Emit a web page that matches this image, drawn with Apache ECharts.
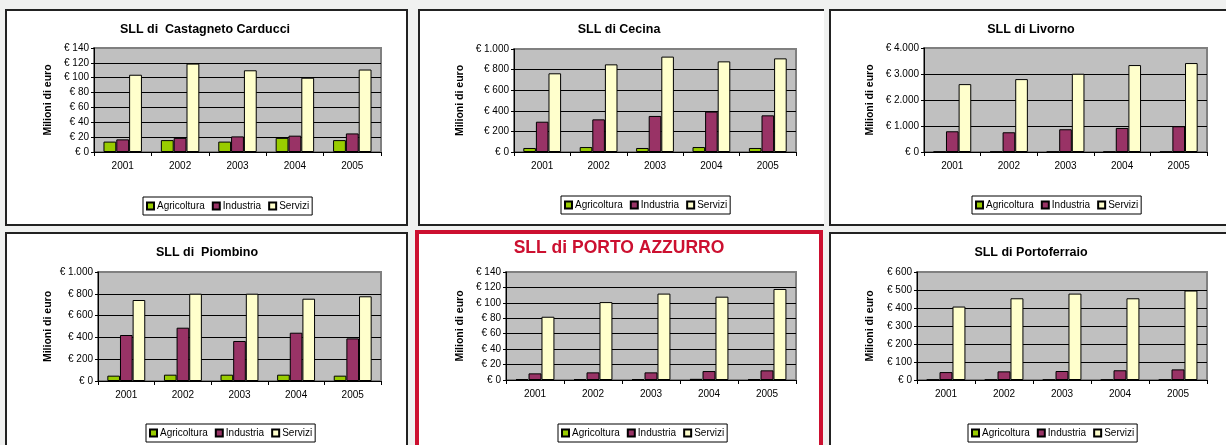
<!DOCTYPE html>
<html>
<head>
<meta charset="utf-8">
<script src="https://cdn.jsdelivr.net/npm/echarts@6/dist/echarts.min.js"></script>
<style>
  html, body { margin: 0; padding: 0; background: #f0f1f0; }
  #wrap { position: relative; width: 1226px; height: 445px; overflow: hidden; }
  .frame { position: absolute; box-sizing: border-box; background: #fff; border: 2px solid #222; }
  #chart { position: absolute; left: 0; top: 0; width: 1226px; height: 445px; }
</style>
</head>
<body>
<div id="wrap">
  <div class="frame" style="left:5px;top:9px;width:403px;height:217px;"></div>
  <div class="frame" style="left:418px;top:9px;width:406px;height:217px;border-right:none;"></div>
  <div class="frame" style="left:829px;top:9px;width:400px;height:217px;border-right:none;"></div>
  <div class="frame" style="left:5px;top:232px;width:403px;height:220px;border-bottom:none;"></div>
  <div class="frame" style="left:415px;top:230px;width:408px;height:220px;border:4px solid #cc1030;border-bottom:none;"></div>
  <div class="frame" style="left:829px;top:232px;width:400px;height:220px;border-right:none;border-bottom:none;"></div>
  <div id="chart"></div>
</div>
<script>
// categories and legend
const years = ["2001", "2002", "2003", "2004", "2005"];
const sectors = ["Agricoltura", "Industria", "Servizi"];
const sectorColors = ["#99cc00", "#993366", "#ffffcc"];

// values (milioni di euro)
const castagnetoAgri = [14, 16, 14, 19, 16];
const castagnetoInd = [17, 19, 21, 22, 25];
const castagnetoServ = [104, 119, 110, 100, 111];

const cecinaAgri = [39, 48, 39, 48, 39];
const cecinaInd = [294, 317, 350, 392, 356];
const cecinaServ = [764, 851, 926, 880, 909];

const livornoAgri = [15, 15, 15, 15, 15];
const livornoInd = [797, 759, 875, 926, 990];
const livornoServ = [2611, 2804, 3010, 3344, 3421];

const piombinoAgri = [49, 58, 58, 58, 49];
const piombinoInd = [422, 489, 367, 443, 391];
const piombinoServ = [743, 801, 801, 755, 777];

const portoAzzurroAgri = [1.2, 1.2, 1.2, 1.5, 1.2];
const portoAzzurroInd = [8.6, 9.9, 9.9, 11.6, 12.5];
const portoAzzurroServ = [82, 101, 112, 108, 118];

const portoferraioAgri = [2, 2, 2, 2, 2];
const portoferraioInd = [44, 48, 50, 54, 59];
const portoferraioServ = [408, 454, 480, 454, 497];

// y axis ranges
const axisMax = [140, 1000, 4000, 1000, 140, 600];
const axisStep = [20, 200, 1000, 200, 20, 100];

const titles = [
  "SLL di  Castagneto Carducci",
  "SLL di Cecina",
  "SLL di Livorno",
  "SLL di  Piombino",
  "SLL di PORTO AZZURRO",
  "SLL di Portoferraio",
];

const panelData = [
  [castagnetoAgri, castagnetoInd, castagnetoServ],
  [cecinaAgri, cecinaInd, cecinaServ],
  [livornoAgri, livornoInd, livornoServ],
  [piombinoAgri, piombinoInd, piombinoServ],
  [portoAzzurroAgri, portoAzzurroInd, portoAzzurroServ],
  [portoferraioAgri, portoferraioInd, portoferraioServ],
];

// layout of each panel (page pixels)
const grids = [
  { left: 94, top: 48, width: 287, height: 104 },
  { left: 514, top: 49, width: 282, height: 103 },
  { left: 924, top: 48, width: 283, height: 104 },
  { left: 98, top: 272, width: 283, height: 109 },
  { left: 506, top: 272, width: 290, height: 108 },
  { left: 917, top: 272, width: 290, height: 108 },
];
const titlePos = [[205, 30], [619, 30], [1031, 30], [207, 253], [619, 248], [1031, 253]];
const nameGaps = [40, 48, 48, 44, 40, 41];
const legendPos = [[143, 197], [561, 196], [972, 196], [146, 424], [558, 424], [968, 424]];

const font = "'Liberation Sans', Arial, sans-serif";

const euro = (v) => "€ " + String(v).replace(/\B(?=(\d{3})+(?!\d))/g, ".");

var myChart = echarts.init(document.getElementById("chart"), null, { renderer: "canvas" });

var option = {
  animation: false,
  backgroundColor: "transparent",
  textStyle: { fontFamily: font, color: "#000" },
  title: [],
  legend: [],
  grid: [],
  xAxis: [],
  yAxis: [],
  series: [],
};

grids.forEach((g, i) => {
  const big = i === 4;
  option.title.push({
    text: titles[i],
    left: titlePos[i][0],
    top: titlePos[i][1],
    textAlign: "center",
    textVerticalAlign: "middle",
    padding: 0,
    textStyle: big
      ? { fontFamily: font, fontSize: 17.5, fontWeight: "bold", color: "#cc1030" }
      : { fontFamily: font, fontSize: 12.5, fontWeight: "bold", color: "#000" },
  });

  option.grid.push({
    left: g.left,
    top: g.top,
    width: g.width,
    height: g.height,
    show: true,
    backgroundColor: "#c0c0c0",
    borderColor: "#808080",
    borderWidth: 2,
  });

  // split line colours: black, the top one gray like the plot border
  const n = axisMax[i] / axisStep[i] + 1;
  const lineColors = [];
  for (var k = 0; k < n; k++) lineColors.push(k === n - 1 ? "#808080" : "#000");

  option.xAxis.push({
    type: "category",
    gridIndex: i,
    data: years,
    axisLine: { lineStyle: { color: "#000", width: 1 } },
    axisTick: { show: true, length: 4, lineStyle: { color: "#000" } },
    axisLabel: { color: "#000", fontSize: 10, fontFamily: font, margin: 9 },
  });

  option.yAxis.push({
    type: "value",
    gridIndex: i,
    min: 0,
    max: axisMax[i],
    interval: axisStep[i],
    name: "Milioni di euro",
    nameLocation: "middle",
    nameGap: nameGaps[i],
    nameTextStyle: { fontFamily: font, fontSize: 10.5, fontWeight: "bold", color: "#000" },
    axisLine: { show: true, lineStyle: { color: "#000", width: 1 } },
    axisTick: { show: true, length: 3, lineStyle: { color: "#000" } },
    axisLabel: { color: "#000", fontSize: 10, fontFamily: font, margin: 5, formatter: euro },
    splitLine: { show: true, lineStyle: { color: lineColors, width: 1 } },
  });

  option.legend.push({
    left: legendPos[i][0],
    top: legendPos[i][1],
    data: sectors,
    orient: "horizontal",
    backgroundColor: "#fff",
    borderColor: "#000",
    borderWidth: 1,
    borderRadius: 0,
    padding: [4, 3],
    itemGap: 7,
    itemWidth: 7,
    itemHeight: 7,
    icon: "rect",
    selectedMode: false,
    textStyle: { fontFamily: font, fontSize: 10, color: "#000", padding: [0, 0, 0, -2] },
  });

  sectors.forEach((s, j) => {
    option.series.push({
      name: s,
      type: "bar",
      xAxisIndex: i,
      yAxisIndex: i,
      data: panelData[i][j],
      barGap: "0%",
      barCategoryGap: "33%",
      itemStyle: { color: sectorColors[j], borderColor: "#000", borderWidth: 1 },
    });
  });
});

myChart.setOption(option);
</script>
</body>
</html>
